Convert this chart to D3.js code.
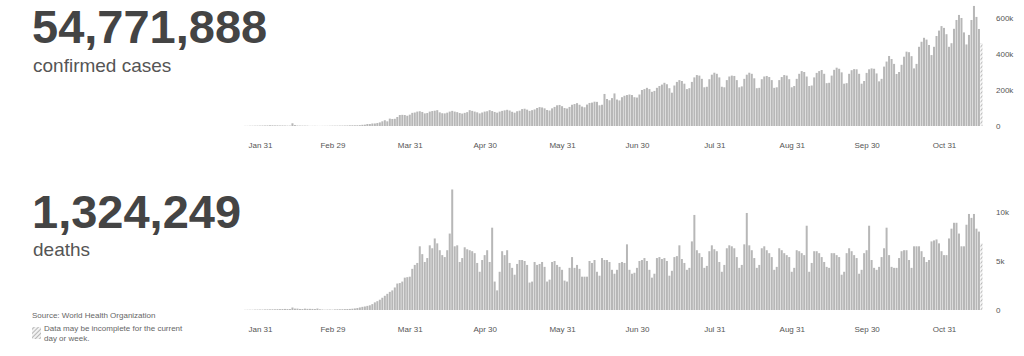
<!DOCTYPE html>
<html>
<head>
<meta charset="utf-8">
<script src="https://cdn.jsdelivr.net/npm/d3@7"></script>
<style>
  body { margin: 0; background: #fff; }
  svg text { font-family: "Liberation Sans", Arial, sans-serif; }
</style>
</head>
<body>
<div id="chart"></div>
<script>
// first day with a bar, one value per day after that
var startDate = new Date(2020, 0, 25);

// daily new confirmed cases, in thousands
var casesK = [
  0.7, 0.8, 1.3, 1.5, 1.7, 2.0, 2.1,
  2.6, 2.8, 3.2, 3.9, 3.7, 3.2, 3.4, 2.7, 3.0, 2.5, 2.0, 2.0, 15.2, 5.1, 2.6, 2.1, 2.0, 1.9, 1.8, 0.6, 0.9, 1.0, 0.7, 0.5, 0.8, 0.9, 1.0, 1.3, 1.8,
  1.8, 1.9, 2.2, 2.3, 2.6, 2.9, 3.6, 3.9, 3.9, 4.1, 4.6, 6.6, 7.5, 10.9, 10.9, 13.9, 14.2, 16.5, 20, 26, 32, 26, 41, 39, 40, 50, 61, 62, 61, 57, 63,
  73, 75, 80, 82, 78, 70, 72, 80, 83, 85, 88, 76, 71, 70, 74, 80, 84, 80, 77, 72, 69, 73, 77, 88, 84, 80, 76, 70, 75, 80,
  82, 88, 83, 78, 74, 80, 84, 87, 90, 86, 79, 74, 82, 85, 94, 96, 91, 84, 88, 92, 100, 105, 103, 98, 89, 86, 98, 106, 115, 117, 110,
  100, 97, 106, 118, 122, 127, 118, 108, 104, 119, 128, 130, 135, 134, 115, 118, 178, 150, 143, 155, 181, 147, 142, 160, 168, 172, 175, 172, 160, 158,
  175, 200, 205, 212, 205, 190, 195, 212, 222, 230, 240, 232, 210, 185, 225, 245, 255, 250, 235, 205, 210, 245, 270, 283, 280, 262, 215, 218, 260, 285, 296,
  290, 270, 218, 215, 255, 275, 280, 278, 255, 215, 220, 262, 285, 296, 290, 265, 210, 212, 260, 275, 278, 272, 255, 212, 215, 255, 272, 283, 280, 260, 215,
  222, 262, 290, 305, 300, 275, 222, 225, 270, 295, 305, 311, 290, 238, 240, 280, 312, 324, 318, 298, 235, 238, 290, 310, 316, 315, 290, 235, 250, 295,
  315, 320, 318, 292, 248, 262, 330, 358, 389, 372, 345, 289, 300, 340, 385, 413, 410, 388, 320, 345, 440, 468, 490, 480, 450, 394, 440, 500, 530, 555, 545,
  510, 440, 460, 540, 589, 617, 600, 520, 453, 506, 589, 667, 606, 539, 461
];

// daily new deaths
var deaths = [
  15, 24, 26, 26, 38, 43, 46,
  45, 57, 64, 66, 73, 73, 86, 89, 97, 108, 97, 100, 254, 143, 142, 106, 98, 139, 115, 118, 109, 97, 150, 71, 52, 29, 44, 47, 35,
  60, 70, 75, 80, 90, 100, 110, 130, 160, 200, 260, 320, 360, 420, 480, 600, 780, 900, 1050, 1250, 1450, 1650, 1850, 2000, 2300, 2700, 2750, 2900, 3300, 3350, 3400,
  4200, 4600, 4800, 6500, 5700, 4900, 5300, 6600, 6300, 7300, 6800, 6100, 5600, 5400, 6100, 7800, 12300, 6500, 6600, 4900, 5300, 6400, 6200, 6100, 6000, 5800, 4800, 3900, 5100, 5600,
  6100, 4900, 8400, 2900, 2000, 3900, 6000, 5600, 6100, 4800, 4300, 3600, 4700, 5100, 5100, 5000, 4600, 2800, 2900, 4900, 4600, 4700, 4900, 4400, 2900, 3100, 4900, 5000, 4600, 4400, 4100,
  3000, 2900, 4300, 5400, 4300, 4600, 4200, 3400, 3400, 3400, 5000, 4800, 5100, 3900, 3500, 5300, 5100, 5100, 4900, 4100, 3700, 4100, 4800, 4900, 4800, 6700, 4100, 3700, 3800, 4300,
  5000, 5100, 5300, 5000, 4100, 3300, 3700, 5300, 5400, 5200, 5300, 5000, 3500, 4000, 5400, 5500, 6600, 5200, 4800, 4100, 4300, 7000, 9700, 6100, 5800, 5400, 4300, 4500, 6000, 6600, 6200,
  6000, 4900, 3900, 4600, 6300, 6600, 6500, 6300, 5400, 4300, 4600, 6700, 9900, 6600, 6100, 5300, 4300, 4600, 6300, 6500, 6100, 5800, 5400, 4100, 4400, 6300, 6100, 5800, 5600, 5400, 3900,
  4300, 6100, 6000, 5800, 5600, 8600, 3900, 4800, 6000, 6000, 5800, 5400, 4900, 4400, 4300, 5800, 5800, 5600, 5400, 3600, 3900, 5800, 6300, 6000, 5600, 5300, 3700, 4100, 5800, 6100,
  8600, 5100, 4300, 4100, 4400, 5400, 6300, 8400, 5600, 4400, 4300, 4300, 5300, 6000, 6100, 6100, 5100, 4300, 6500, 6500, 6500, 6000, 5400, 4900, 5100, 7000, 7100, 7200, 6800, 6000, 5600,
  5600, 7300, 8300, 8900, 8900, 7800, 6500, 6500, 8700, 9800, 9400, 9800, 8300, 8000, 6800
];

// x axis labels
var tickDates = [
  new Date(2020, 0, 31), new Date(2020, 1, 29), new Date(2020, 2, 31), new Date(2020, 3, 30),
  new Date(2020, 4, 31), new Date(2020, 5, 30), new Date(2020, 6, 31), new Date(2020, 7, 31),
  new Date(2020, 8, 30), new Date(2020, 9, 31)
];
var casesTicks = [0, 200, 400, 600];
var deathsTicks = [0, 5000, 10000];

// headline totals
var totalCases = "54,771,888";
var totalDeaths = "1,324,249";

var days = casesK.map(function (v, i) { return d3.timeDay.offset(startDate, i); });

var svg = d3.select("#chart").append("svg").attr("width", 1024).attr("height", 356);

// hatch used for incomplete data
var defs = svg.append("defs");
var hatch = defs.append("pattern").attr("id", "hatch").attr("patternUnits", "userSpaceOnUse")
  .attr("width", 3).attr("height", 3).attr("patternTransform", "rotate(45)");
hatch.append("rect").attr("width", 3).attr("height", 3).attr("fill", "#f2f2f2");
hatch.append("line").attr("x1", 0).attr("y1", 0).attr("x2", 0).attr("y2", 3)
  .attr("stroke", "#a8a8a8").attr("stroke-width", 1.6);

// shared time scale
var x = d3.scaleTime().domain([tickDates[0], tickDates[9]]).range([260, 944]);
var barW = 2;

/**
 * draws one panel of daily bars with its axes
 */
function renderPanel(values, y, ticks, fmt) {
  var g = svg.append("g");
  var last = values.length - 1;

  g.selectAll("rect.bar").data(values).enter().append("rect")
    .attr("class", "bar")
    .attr("x", function (d, i) { return x(days[i]) - barW / 2; })
    .attr("width", barW)
    .attr("y", function (d) { return y(d); })
    .attr("height", function (d) { return y(0) - y(d); })
    .attr("fill", function (d, i) { return i == last ? "url(#hatch)" : "#b7b7b7"; });

  // date labels under the bars
  var xa = g.append("g").attr("transform", "translate(0," + y(0) + ")")
    .call(d3.axisBottom(x).tickValues(tickDates).tickSize(0).tickPadding(16)
      .tickFormat(d3.timeFormat("%b %-d")));
  xa.select(".domain").remove();
  xa.selectAll("text").attr("font-size", 8).attr("fill", "#555")
    .style("font-family", "'Liberation Sans', Arial, sans-serif");

  // value labels on the right
  var ya = g.append("g").attr("transform", "translate(996,0)")
    .call(d3.axisRight(y).tickValues(ticks).tickSize(0).tickPadding(0).tickFormat(fmt));
  ya.select(".domain").remove();
  ya.selectAll("text").attr("font-size", 8).attr("fill", "#555")
    .style("font-family", "'Liberation Sans', Arial, sans-serif");
}

var yCases = d3.scaleLinear().domain([0, 600]).range([126, 18]);
renderPanel(casesK, yCases, casesTicks, function (d) { return d ? d + "k" : "0"; });

var yDeaths = d3.scaleLinear().domain([0, 10000]).range([310, 212]);
renderPanel(deaths, yDeaths, deathsTicks, function (d) { return d ? d / 1000 + "k" : "0"; });

// big numbers and captions
svg.append("text").attr("x", 32).attr("y", 43).attr("font-size", 47).attr("font-weight", "bold")
  .attr("fill", "#444").text(totalCases);
svg.append("text").attr("x", 33).attr("y", 72).attr("font-size", 19).attr("fill", "#555").text("confirmed cases");
svg.append("text").attr("x", 32).attr("y", 228).attr("font-size", 47).attr("font-weight", "bold")
  .attr("fill", "#444").text(totalDeaths);
svg.append("text").attr("x", 33).attr("y", 256).attr("font-size", 19).attr("fill", "#555").text("deaths");

// source and legend
svg.append("text").attr("x", 32).attr("y", 318).attr("font-size", 8).attr("fill", "#666")
  .text("Source:  World Health Organization");
svg.append("rect").attr("x", 32).attr("y", 327).attr("width", 9).attr("height", 12).attr("fill", "url(#hatch)");
var note = svg.append("text").attr("font-size", 8).attr("fill", "#666");
note.append("tspan").attr("x", 44).attr("y", 331).text("Data may be incomplete for the current");
note.append("tspan").attr("x", 44).attr("y", 340.5).text("day or week.");
</script>
</body>
</html>
